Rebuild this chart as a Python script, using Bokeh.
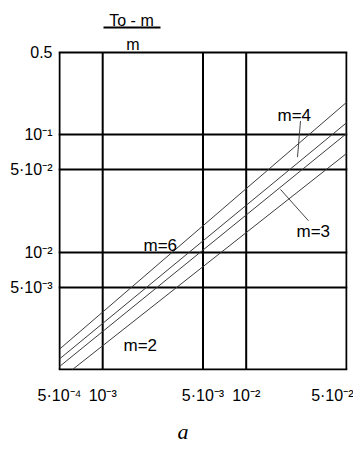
from bokeh.plotting import figure
from bokeh.models import FixedTicker, Range1d, Title
from bokeh.core.properties import value
from bokeh.embed import file_html
from bokeh.resources import INLINE

# ---- data ----
m_values = [6, 4, 3, 2]
x_starts = [5e-4, 5e-4, 5e-4, 6.16e-4]
y_starts = [1.49e-3, 1.23e-3, 1.06e-3, 1.0e-3]
x_stops = [5e-2, 5e-2, 5e-2, 5e-2]
y_stops = [0.188, 0.126, 0.102, 0.069]

x_lo, x_hi = 5e-4, 5e-2
y_lo, y_hi = 1e-3, 0.5
x_ticks = [5e-4, 1e-3, 5e-3, 1e-2, 5e-2]
x_tick_labels = ["5·10⁻⁴", "10⁻³", "5·10⁻³", "10⁻²", "5·10⁻²"]
y_ticks = [5e-3, 1e-2, 5e-2, 1e-1, 0.5]
y_tick_labels = ["5·10⁻³", "10⁻²", "5·10⁻²", "10⁻¹", "0.5"]

FONT = "Liberation Sans"

# layout calibration (pixel position of the plot box in the picture)
PX_L, PX_R, PY_T, PY_B = 59, 346, 53, 377
PPD_X = (PX_R - PX_L) / 2.0            # pixels per decade, x
PPD_Y = (PY_B - PY_T) / 2.699          # pixels per decade, y


def X(px):
    return x_lo * 10 ** ((px - PX_L) / PPD_X)


def Y(py):
    return y_hi * 10 ** (-(py - PY_T) / PPD_Y)


W, H = 353, 453
FL, FR, FT, FB = 58, 347, 5, 378       # frame edges (px)

p = figure(width=W, height=H, x_axis_type="log", y_axis_type="log",
           x_range=Range1d(X(FL), X(FR)), y_range=Range1d(Y(FB), Y(FT)),
           output_backend="svg", toolbar_location=None, title=None,
           min_border_left=FL, min_border_right=W - FR, min_border_top=FT,
           min_border_bottom=H - FB)
p.background_fill_color = "white"
p.border_fill_color = "white"
p.outline_line_color = None

for ax, ticks, labels in ((p.xaxis, x_ticks, x_tick_labels), (p.yaxis, y_ticks, y_tick_labels)):
    ax.ticker = FixedTicker(ticks=ticks)
    ax.major_label_overrides = dict(zip(ticks, labels))
    ax.axis_line_color = None
    ax.major_tick_line_color = None
    ax.minor_tick_line_color = None
    ax.major_tick_in = 0
    ax.major_tick_out = 0
    ax.major_label_text_font = FONT
    ax.major_label_text_font_size = "16px"
    ax.major_label_text_color = "black"
p.xaxis.major_label_standoff = 16
p.yaxis.major_label_standoff = 6

# horizontal rules (incl. top and bottom of the box)
p.xgrid.visible = False
p.ygrid.ticker = FixedTicker(ticks=[y_lo] + y_ticks)
p.ygrid.grid_line_color = "black"
p.ygrid.grid_line_width = 2
p.ygrid.grid_line_alpha = 1.0

# vertical rules (incl. left and right of the box), stopping at the box top
p.segment(x0=x_ticks, y0=[y_lo] * len(x_ticks), x1=x_ticks, y1=[y_hi] * len(x_ticks),
          line_color="black", line_width=2)

# curves
p.segment(x0=x_starts, y0=y_starts, x1=x_stops, y1=y_stops,
          line_color="#3c3c3c", line_width=1)

# curve labels and leader lines
label_pos = {6: (143, 250), 4: (277, 117), 3: (296, 236), 2: (123, 352)}
p.text(x=[X(label_pos[m][0]) for m in m_values], y=[Y(label_pos[m][1]) for m in m_values],
       text=[f"m={m}" for m in m_values], text_font=value(FONT), text_font_size=value("17px"),
       text_color="black", text_baseline="alphabetic", text_align="left")
leaders = [(300, 123, 297, 160), (280, 193, 308, 225)]
p.segment(x0=[X(a[0]) for a in leaders], y0=[Y(a[1]) for a in leaders],
          x1=[X(a[2]) for a in leaders], y1=[Y(a[3]) for a in leaders],
          line_color="#444444", line_width=1)

# y-axis caption as a fraction (To - m) / m
p.text(x=[X(131), X(132.5)], y=[Y(20), Y(45)], text=["To - m", "m"],
       text_font=value(FONT), text_font_size=value("16px"), text_color="black",
       text_align="center", text_baseline="alphabetic")
p.segment(x0=[X(103)], y0=[Y(27.5)], x1=[X(160)], y1=[Y(27.5)], line_color="black", line_width=2)

# panel letter under the chart
p.add_layout(Title(text="a", text_font="Liberation Serif", text_font_style="italic",
                   text_font_size="22px", text_color="black", align="left",
                   offset=183 - FL - 6, standoff=20), "below")

open("out.html", "w").write(file_html(p, INLINE))
